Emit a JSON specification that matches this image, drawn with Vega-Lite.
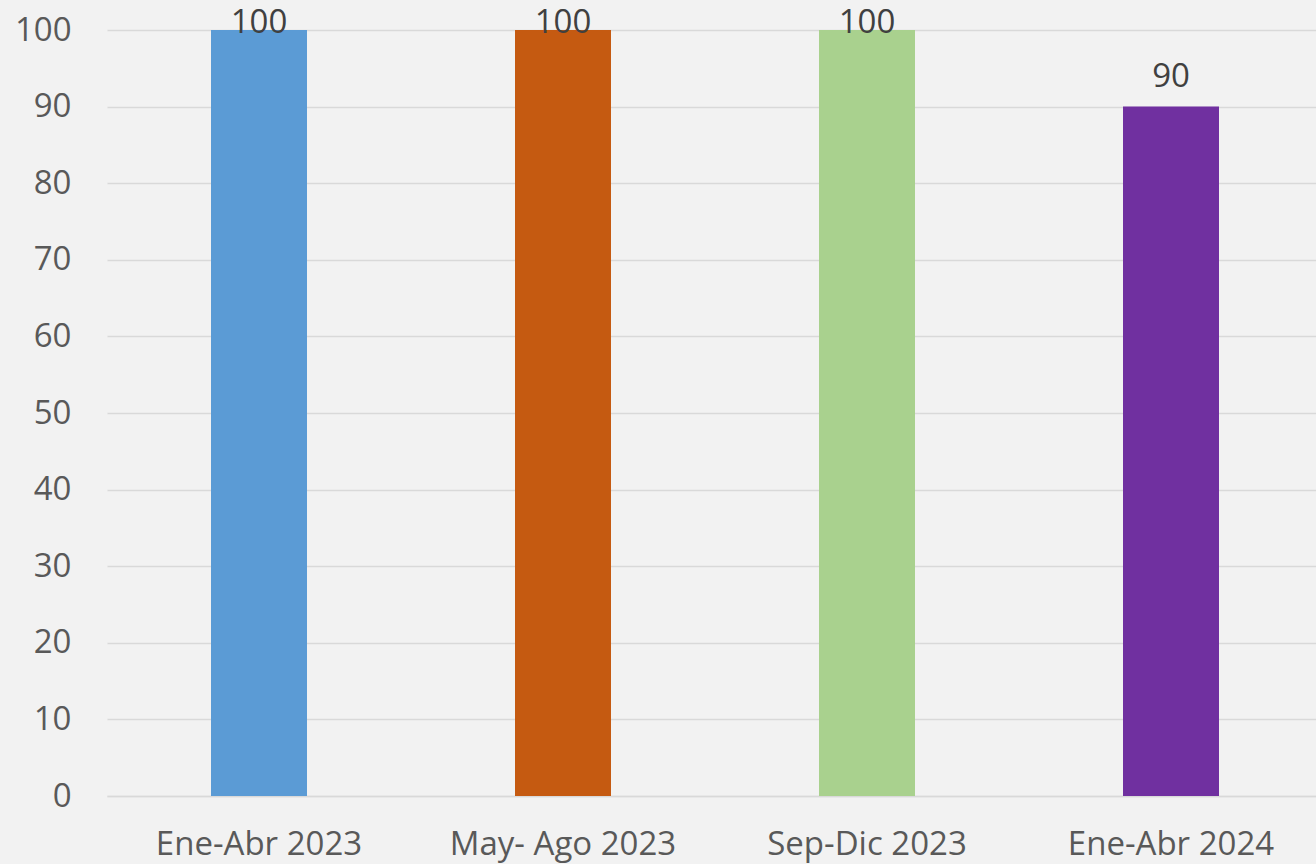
{
  "$schema": "https://vega.github.io/schema/vega-lite/v6.json",
  "autosize": "none",
  "padding": {"left": 107, "top": 30, "right": 0, "bottom": 68},
  "width": 1216,
  "height": 766,
  "background": "#f2f2f2",
  "config": {
    "view": {"stroke": null},
    "font": "Open Sans"
  },
  "data": {
    "values": [
      {"periodo": "Ene-Abr 2023", "valor": 100, "color": "#5B9BD5"},
      {"periodo": "May- Ago 2023", "valor": 100, "color": "#C55A11"},
      {"periodo": "Sep-Dic 2023", "valor": 100, "color": "#A9D18E"},
      {"periodo": "Ene-Abr 2024", "valor": 90, "color": "#7030A0"}
    ]
  },
  "encoding": {
    "x": {
      "field": "periodo",
      "type": "nominal",
      "sort": null,
      "scale": {"paddingInner": 0, "paddingOuter": 0},
      "axis": {
        "title": null,
        "labelAngle": 0,
        "labelFontSize": 33,
        "labelLimit": 0,
        "labelColor": "#595959",
        "labelPadding": 32,
        "ticks": false,
        "domainColor": "#d9d9d9",
        "domainWidth": 1.5
      }
    },
    "y": {
      "field": "valor",
      "type": "quantitative",
      "scale": {"domain": [0, 100], "nice": false},
      "axis": {
        "title": null,
        "values": [0, 10, 20, 30, 40, 50, 60, 70, 80, 90, 100],
        "labelFontSize": 33,
        "labelColor": "#595959",
        "labelPadding": 36,
        "ticks": false,
        "domain": false,
        "gridColor": "#d9d9d9",
        "gridWidth": 1.5
      }
    }
  },
  "layer": [
    {
      "mark": {"type": "bar", "width": 96},
      "encoding": {
        "color": {"field": "color", "type": "nominal", "scale": null, "legend": null}
      }
    },
    {
      "transform": [{"filter": "datum.valor >= 100"}],
      "mark": {"type": "text", "fontSize": 33, "color": "#404040", "baseline": "alphabetic", "dy": 3},
      "encoding": {"text": {"field": "valor", "type": "quantitative"}}
    },
    {
      "transform": [{"filter": "datum.valor < 100"}],
      "mark": {"type": "text", "fontSize": 33, "color": "#404040", "baseline": "alphabetic", "dy": -20},
      "encoding": {"text": {"field": "valor", "type": "quantitative"}}
    }
  ]
}
